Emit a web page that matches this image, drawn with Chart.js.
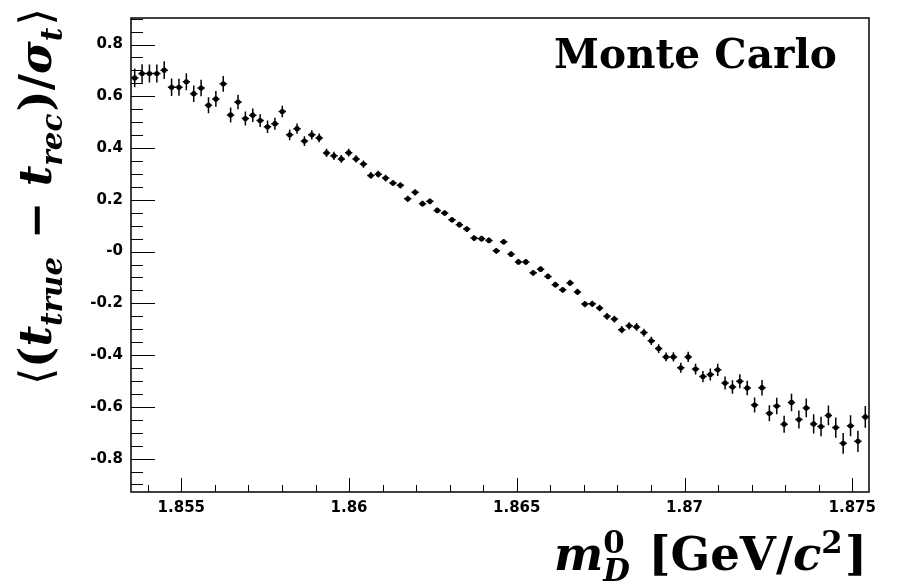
<!DOCTYPE html>
<html>
<head>
<meta charset="utf-8">
<script src="https://cdn.jsdelivr.net/npm/chart.js@4.4.1/dist/chart.umd.min.js"></script>
<style>
  html, body { margin: 0; padding: 0; background: #fff; }
  canvas { display: block; }
</style>
</head>
<body>
<canvas id="c" width="897" height="586"></canvas>
<script>
// D0 mass binning
const massLow = 1.8535;
const massHigh = 1.8755;
const nBins = 100;

// mean pull per bin
const pullMean = [
  0.671, 0.688, 0.688, 0.688, 0.701, 0.635, 0.635, 0.656, 0.610, 0.632,
  0.565, 0.590, 0.648, 0.528, 0.578, 0.514, 0.527, 0.506, 0.482, 0.494,
  0.541, 0.451, 0.475, 0.427, 0.451, 0.439, 0.381, 0.370, 0.358, 0.382,
  0.358, 0.338, 0.294, 0.299, 0.284, 0.265, 0.256, 0.204, 0.229, 0.185,
  0.194, 0.159, 0.149, 0.123, 0.104, 0.087, 0.052, 0.050, 0.043, 0.003,
  0.038, -0.010, -0.040, -0.040, -0.082, -0.068, -0.096, -0.128, -0.148, -0.121,
  -0.156, -0.203, -0.202, -0.218, -0.250, -0.261, -0.302, -0.287, -0.291, -0.313,
  -0.345, -0.375, -0.407, -0.407, -0.449, -0.407, -0.454, -0.483, -0.475, -0.457,
  -0.508, -0.523, -0.501, -0.527, -0.593, -0.526, -0.625, -0.597, -0.667, -0.583,
  -0.649, -0.604, -0.666, -0.676, -0.633, -0.680, -0.741, -0.673, -0.733, -0.639
];

// error on the mean
const pullErr = [
  0.036, 0.036, 0.035, 0.035, 0.034, 0.034, 0.033, 0.033, 0.032, 0.032,
  0.031, 0.030, 0.030, 0.029, 0.028, 0.027, 0.026, 0.025, 0.024, 0.023,
  0.022, 0.021, 0.020, 0.019, 0.018, 0.017, 0.016, 0.016, 0.015, 0.015,
  0.014, 0.014, 0.013, 0.013, 0.013, 0.012, 0.012, 0.012, 0.012, 0.011,
  0.011, 0.011, 0.011, 0.011, 0.011, 0.011, 0.011, 0.011, 0.011, 0.011,
  0.011, 0.011, 0.011, 0.011, 0.011, 0.011, 0.011, 0.011, 0.011, 0.012,
  0.012, 0.012, 0.012, 0.013, 0.013, 0.013, 0.014, 0.014, 0.015, 0.015,
  0.016, 0.017, 0.017, 0.018, 0.019, 0.020, 0.021, 0.022, 0.023, 0.024,
  0.025, 0.026, 0.027, 0.028, 0.029, 0.030, 0.031, 0.032, 0.033, 0.034,
  0.035, 0.036, 0.037, 0.038, 0.038, 0.039, 0.040, 0.041, 0.041, 0.042
];

const xTickVals = [1.855, 1.86, 1.865, 1.87, 1.875];
const xTickLabels = ["1.855", "1.86", "1.865", "1.87", "1.875"];
const yTickVals = [0.8, 0.6, 0.4, 0.2, 0, -0.2, -0.4, -0.6, -0.8];
const yTickLabels = ["0.8", "0.6", "0.4", "0.2", "-0", "-0.2", "-0.4", "-0.6", "-0.8"];

const binWidth = (massHigh - massLow) / nBins;
const points = pullMean.map((v, i) => ({ x: massLow + (i + 0.5) * binWidth, y: v }));

function labelFor(vals, labels, value) {
  const i = vals.findIndex(t => Math.abs(t - value) < 1e-7);
  return i >= 0 ? labels[i] : "";
}

// rich text helpers (sub/superscripts)
const SERIF = '"DejaVu Serif", "Liberation Serif", serif';
function fontFor(p, it, size) {
  return (it ? "italic " : "") + (p.w || "bold") + " " + size + "px " + (p.fam || SERIF);
}
function layoutRich(ctx, parts, size, draw, x0, y0) {
  let x = x0;
  const small = size * 0.66;
  for (const p of parts) {
    if (p.t !== undefined) {
      ctx.font = fontFor(p, p.it, size);
      if (draw) ctx.fillText(p.t, x, y0);
      x += ctx.measureText(p.t).width;
    } else {
      let w = 0;
      if (p.sup) {
        ctx.font = fontFor(p, p.supIt, small);
        if (draw) ctx.fillText(p.sup, x, y0 - size * 0.37);
        w = Math.max(w, ctx.measureText(p.sup).width);
      }
      if (p.sub) {
        ctx.font = fontFor(p, p.subIt, small);
        if (draw) ctx.fillText(p.sub, x, y0 + size * 0.24);
        w = Math.max(w, ctx.measureText(p.sub).width);
      }
      x += w + size * 0.05;
    }
  }
  return x - x0;
}
function fitSize(ctx, parts, target) {
  return 36 * target / layoutRich(ctx, parts, 36, false, 0, 0);
}

const yTitle = [
  { t: "⟨", w: "normal", fam: '"DejaVu Sans", sans-serif' }, { t: "(" },
  { t: "t", it: true }, { sub: "true", subIt: true },
  { t: " − " }, { t: "t", it: true }, { sub: "rec", subIt: true },
  { t: ")/" }, { t: "σ", it: true }, { sub: "t", subIt: true },
  { t: "⟩", w: "normal", fam: '"DejaVu Sans", sans-serif' }
];
const xTitle = [
  { t: "m", it: true }, { sup: "0", sub: "D", subIt: true },
  { t: " [GeV/" }, { t: "c", it: true }, { sup: "2" }, { t: "]" }
];

const framePlugin = {
  id: "frame",
  afterDraw(chart) {
    const ctx = chart.ctx;
    const a = chart.chartArea;
    const xs = chart.scales.x, ys = chart.scales.y;
    ctx.save();
    ctx.strokeStyle = "#000";
    ctx.lineWidth = 1;
    ctx.beginPath();
    xs.ticks.forEach(t => {
      const px = Math.round(xs.getPixelForValue(t.value)) + 0.5;
      const len = t.label ? 14 : 7;
      ctx.moveTo(px, a.bottom);
      ctx.lineTo(px, a.bottom - len);
    });
    ys.ticks.forEach(t => {
      const py = Math.round(ys.getPixelForValue(t.value)) + 0.5;
      const len = t.label ? 24 : 12;
      ctx.moveTo(a.left, py);
      ctx.lineTo(a.left + len, py);
    });
    ctx.stroke();
    ctx.lineWidth = 1.5;
    ctx.strokeRect(a.left, a.top, a.right - a.left, a.bottom - a.top);

    // texts
    ctx.fillStyle = "#000";
    ctx.textAlign = "left";
    ctx.textBaseline = "alphabetic";

    ctx.font = "bold 40px " + SERIF;
    const mc = "Monte Carlo";
    const mcSize = 40 * 283 / ctx.measureText(mc).width;
    ctx.font = "bold " + mcSize + "px " + SERIF;
    ctx.fillText(mc, 554, 68);

    const xs2 = fitSize(ctx, xTitle, 313);
    layoutRich(ctx, xTitle, xs2, true, 554, 570);

    const ys2 = fitSize(ctx, yTitle, 377);
    ctx.translate(51, 196.5);
    ctx.rotate(-Math.PI / 2);
    layoutRich(ctx, yTitle, ys2, true, -377 / 2, 0);
    ctx.restore();
  },
  afterDatasetsDraw(chart) {
    const ctx = chart.ctx;
    const xs = chart.scales.x, ys = chart.scales.y;
    ctx.save();
    ctx.strokeStyle = "#000";
    ctx.lineWidth = 1.5;
    ctx.beginPath();
    points.forEach((p, i) => {
      const px = xs.getPixelForValue(p.x);
      const py = ys.getPixelForValue(p.y);
      ctx.moveTo(xs.getPixelForValue(p.x - binWidth / 2), py);
      ctx.lineTo(xs.getPixelForValue(p.x + binWidth / 2), py);
      ctx.moveTo(px, ys.getPixelForValue(p.y + pullErr[i]));
      ctx.lineTo(px, ys.getPixelForValue(p.y - pullErr[i]));
    });
    ctx.stroke();
    ctx.restore();
  }
};

const tickFont = { family: "DejaVu Sans", weight: "bold", size: 15 };

new Chart(document.getElementById("c"), {
  type: "scatter",
  data: {
    datasets: [{
      data: points,
      backgroundColor: "#000",
      borderColor: "#000",
      pointRadius: 2.6,
      pointHoverRadius: 2.6,
      borderWidth: 0
    }]
  },
  options: {
    responsive: false,
    animation: false,
    events: [],
    layout: { padding: { top: 18, right: 28, left: 0, bottom: 0 } },
    plugins: { legend: { display: false }, tooltip: { enabled: false } },
    scales: {
      x: {
        type: "linear",
        min: massLow,
        max: massHigh,
        afterBuildTicks: s => {
          const t = [];
          for (let k = 1854; k <= 1875; k++) t.push({ value: k / 1000 });
          s.ticks = t;
        },
        afterFit: s => { s.height = 94; },
        grid: { display: false, drawTicks: false },
        border: { display: false },
        ticks: {
          autoSkip: false,
          maxRotation: 0,
          padding: 7,
          color: "#000",
          font: tickFont,
          callback: v => labelFor(xTickVals, xTickLabels, v)
        }
      },
      y: {
        min: -0.929,
        max: 0.9025,
        afterBuildTicks: s => {
          const t = [];
          for (let k = -18; k <= 18; k++) t.push({ value: k * 0.05 });
          s.ticks = t;
        },
        afterFit: s => { s.width = 131; },
        grid: { display: false, drawTicks: false },
        border: { display: false },
        ticks: {
          autoSkip: false,
          padding: 8,
          color: "#000",
          font: tickFont,
          callback: v => labelFor(yTickVals, yTickLabels, v)
        }
      }
    }
  },
  plugins: [framePlugin]
});
</script>
</body>
</html>
